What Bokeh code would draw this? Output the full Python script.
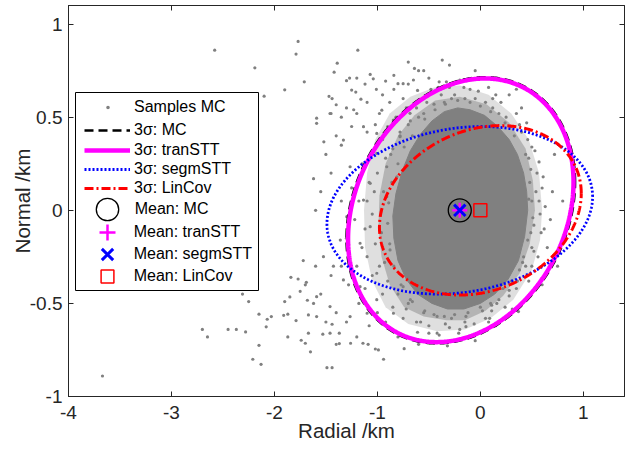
import numpy as np
from bokeh.plotting import figure
from bokeh.models import Legend, LegendItem, BoxAnnotation, FixedTicker, LinearAxis, Range1d
from bokeh.embed import file_html
from bokeh.resources import INLINE

# ---------------- data ----------------
# Monte-Carlo samples (outliers and the speckled halo)
samples_x = [
    -3.67, -2.58, -2.19, -1.77, -1.79, -1.71, -1.90, -2.10, -1.19, -1.39, -1.42, -0.70, -0.64, -0.60, -0.37,
    -1.47, -1.44, -1.30, -1.27, -1.20, -1.40, -1.45, -1.59, -1.25, -1.21, -1.16, -1.04, -1.07, -1.12, -1.01,
    -0.92, -0.84, -0.84, -0.75, -0.70, -0.61, -0.50, -0.48, -0.41, -0.33,
    -2.70, -2.65, -2.45, -2.37, -2.28, -2.31, -2.25, -2.15, -2.07, -2.03, -2.08, -2.15, -2.21, -2.13,
    -1.87, -1.91, -1.87, -1.79, -1.74, -1.70, -1.90, -1.85, -1.75, -1.68, -1.72, -1.69, -1.67, -1.84, -1.77,
    -1.49, -1.44, -1.65, -0.94, -0.99, -1.02, -0.74, -0.32, -1.37, -1.26, -1.14, -1.09, -1.67, -1.53, -1.46,
    -1.37, -1.44, -0.61, -0.50, -0.42, -0.21, -0.14, 0.00, 0.11, 0.11, 0.31, 0.37, 0.09,
    0.50, 0.52, 0.48, 0.55, 0.50, 0.47, 0.58, 0.53, 0.44, 0.60, 0.49, 0.56, 0.62, 0.46, 0.40,
    0.30, 0.25, 0.12, 0.05, 0.20, 0.35, 0.15, -0.05, 0.28, 0.40, 0.08, 0.45,
    -0.15, -0.25, -0.35, -0.45, -0.55, -0.30, -0.10, -0.48, -0.62, -0.20, -0.40,
    -0.68, -0.78, -0.85, -0.92, -0.72, -0.82, -0.95, -1.00, -1.05, -0.90, -1.10, -0.98, -1.15, -0.75, -0.88, -1.02,
    -1.03, -1.05, -1.08, -1.12, -1.02, -1.18, -1.22, -1.15, -1.25, -1.30, -1.10, -1.35,
    -0.98, -0.90, -0.80, -0.70, -1.05, -0.95, -0.85, -1.12, -1.20, -1.00, -0.75, -1.18, -1.28, -0.92, -1.08, -1.35,
    -0.55, -0.45, -0.35, -0.25, -0.12, 0.00, 0.10, -0.50, -0.30, -0.15, 0.05, -0.62, -0.40, 0.18,
    0.22, 0.30, 0.38, 0.42, 0.28, 0.35, 0.45, 0.50,
    -1.30, -1.20, -1.10, -0.95, -0.80, -0.65, -0.55, -1.25, -1.40, -1.50, -1.35, -1.45, -1.55, -1.60,
    -1.45, -1.55, -1.40, -1.60, -1.50, -1.30, -1.20, -1.62, -1.70, -1.40,
    0.70, 0.65, 0.72, 0.68, 0.80, 0.62, 0.75, 0.60,
    0.20, -0.05, 0.35, -0.30, 0.15, 0.30, -0.05, -0.60, -0.80,
    -1.59, -1.46, -1.35, -1.23, -1.135, -1.33, -1.52, -1.62, -1.265, -1.006, -0.909, -1.07, -0.81, -1.135,
    -0.909, -1.07, -1.168, -1.524, -1.427, -1.33, -1.10, -1.006, -1.168, -1.006, -1.46, -1.59, -1.265, -0.844,
    -0.68, -0.75, -0.877, -0.957, -0.845, -0.683, -0.78, -0.617, -1.006, -0.585, -0.683, -0.553, -1.297, -1.36,
    -1.59, -1.10, -0.909,
    0.47, 0.51, 0.54, 0.49, 0.57, 0.46, 0.52, 0.59, 0.44, 0.50, 0.57, 0.41, 0.47, 0.63, 0.61,
    0.33, 0.24, 0.10, 0.00, -0.10, -0.22, -0.34, -0.44, -0.54, 0.18, -0.02, -0.16, -0.28, -0.38, -0.52, -0.60,
    0.38, 0.12,
    -0.66, -0.74, -0.80, -0.86, -0.89, -0.90, -0.88, -0.84, -0.77, -0.94, -0.96, -0.93, -0.70, -0.78, -0.87,
    -0.66, -0.54, -0.42, -0.28, -0.14, 0.02, 0.16, 0.28, -0.72, -0.58, -0.34, -0.20, -0.06, 0.08, 0.24, 0.36,
]
samples_y = [
    -0.89, 0.86, 0.765, 0.907, 0.839, 0.69, 0.647, 0.613, 0.86, 0.79, 0.742, 0.796, 0.762, 0.75, 0.807,
    0.612, 0.60, 0.696, 0.71, 0.71, 0.567, 0.52, 0.495, 0.646, 0.635, 0.597, 0.706, 0.73, 0.678, 0.65,
    0.694, 0.725, 0.65, 0.68, 0.678, 0.644, 0.71, 0.65, 0.66, 0.69,
    -0.64, -0.68, -0.64, -0.64, -0.653, -0.45, -0.49, -0.558, -0.585, -0.571, -0.626, -0.725, -0.80, -0.827,
    -0.68, -0.564, -0.558, -0.592, -0.698, -0.714, -0.49, -0.465, -0.435, -0.483, -0.27, -0.387, -0.562, -0.36, -0.369,
    -0.845, -0.845, -0.76, -0.80, -0.75, -0.745, -0.743, -0.728, -0.716, -0.714, -0.714, -0.72, -0.66, -0.665, -0.66,
    -0.66, -0.612, -0.655, -0.66, -0.66, -0.66, -0.625, -0.65, -0.51, -0.54, -0.53, -0.544, -0.58,
    0.05, -0.08, 0.15, 0.20, -0.20, 0.28, -0.02, 0.32, -0.30, 0.12, -0.12, -0.25, -0.10, 0.38, 0.42,
    0.45, 0.50, 0.55, 0.58, 0.58, 0.52, 0.62, 0.60, 0.62, 0.55, 0.66, 0.47,
    0.60, 0.62, 0.58, 0.57, 0.52, 0.66, 0.65, 0.63, 0.55, 0.70, 0.69,
    0.48, 0.42, 0.33, 0.28, 0.55, 0.50, 0.38, 0.20, 0.30, 0.45, 0.42, 0.52, 0.25, 0.60, 0.58, 0.46,
    0.10, -0.02, 0.15, -0.10, -0.18, 0.05, -0.05, -0.20, 0.12, -0.15, 0.05, 0.05,
    -0.30, -0.38, -0.45, -0.50, -0.35, -0.45, -0.52, -0.42, -0.30, -0.55, -0.58, -0.50, -0.40, -0.60, -0.62, -0.30,
    -0.55, -0.56, -0.57, -0.56, -0.55, -0.52, -0.50, -0.62, -0.63, -0.60, -0.58, -0.60, -0.67, -0.48,
    -0.42, -0.38, -0.32, -0.25, -0.46, -0.42, -0.35, -0.30,
    0.55, 0.52, 0.58, 0.62, 0.68, 0.70, 0.75, 0.45, 0.40, 0.30, 0.35, 0.20, 0.10, 0.00,
    -0.35, -0.45, -0.55, -0.30, -0.60, -0.60, -0.68, -0.50, -0.40, -0.72,
    0.10, -0.20, 0.30, -0.05, 0.05, 0.40, -0.30, -0.40,
    0.70, 0.75, 0.65, 0.78, -0.62, -0.55, -0.70, -0.72, -0.68,
    0.467, 0.52, 0.50, 0.54, 0.449, 0.377, 0.368, 0.17, 0.234, 0.306, 0.234, 0.145, 0.18, 0.055,
    0.073, -0.088, -0.177, -0.249, -0.30, -0.374, -0.249, -0.338, -0.41, -0.48, -0.517, -0.571, -0.571, -0.553,
    -0.48, -0.41, -0.213, 0.538, 0.485, 0.521, 0.395, 0.36, 0.413, 0.234, 0.145, 0.055, -0.034, -0.16,
    -0.464, -0.553, -0.625,
    0.06, -0.04, 0.10, 0.22, 0.05, -0.16, -0.22, -0.12, 0.30, 0.34, 0.26, -0.28, -0.38, 0.02, 0.18,
    0.40, 0.47, 0.53, 0.56, 0.58, 0.59, 0.57, 0.54, 0.49, 0.52, 0.64, 0.66, 0.60, 0.62, 0.58, 0.50,
    0.46, 0.60,
    0.40, 0.34, 0.25, 0.15, 0.04, -0.07, -0.18, -0.30, -0.40, 0.10, -0.12, -0.28, 0.46, 0.40, 0.30,
    -0.49, -0.54, -0.57, -0.58, -0.57, -0.54, -0.50, -0.43, -0.53, -0.60, -0.61, -0.64, -0.61, -0.60, -0.52, -0.38,
]
# outlines of the saturated sample core, of its dense ring and of its sparse rim
core_x = [0.46, 0.45, 0.42, 0.36, 0.28, 0.17, 0.04, -0.10, -0.22, -0.35, -0.47, -0.58, -0.68, -0.76,
          -0.82, -0.85, -0.84, -0.80, -0.72, -0.61, -0.47, -0.32, -0.16, 0.00, 0.14, 0.27, 0.37, 0.43]
core_y = [0.00, 0.10, 0.20, 0.30, 0.38, 0.45, 0.51, 0.54, 0.55, 0.53, 0.48, 0.41, 0.32, 0.21,
          0.09, -0.03, -0.15, -0.27, -0.37, -0.45, -0.50, -0.53, -0.53, -0.50, -0.45, -0.37, -0.27, -0.14]
mid_x = [0.53, 0.51, 0.44, 0.28, 0.06, -0.20, -0.44, -0.64, -0.80, -0.92, -0.98, -0.99, -0.96,
         -0.88, -0.74, -0.55, -0.33, -0.15, 0.05, 0.22, 0.38, 0.48]
mid_y = [0.00, 0.16, 0.33, 0.47, 0.57, 0.61, 0.59, 0.51, 0.40, 0.25, 0.08, -0.09, -0.25,
         -0.40, -0.52, -0.57, -0.59, -0.59, -0.54, -0.46, -0.34, -0.18]
rim_x = [0.60, 0.57, 0.47, 0.30, 0.08, -0.20, -0.45, -0.68, -0.88, -1.02, -1.10, -1.13, -1.12, -1.05,
         -0.92, -0.70, -0.42, -0.15, 0.10, 0.32, 0.50, 0.58]
rim_y = [0.00, 0.20, 0.38, 0.52, 0.62, 0.67, 0.66, 0.61, 0.52, 0.38, 0.20, 0.00, -0.20, -0.38,
         -0.52, -0.61, -0.65, -0.64, -0.58, -0.48, -0.32, -0.16]

# 3-sigma covariance ellipses (km^2)
ell_names = ["MC", "tranSTT", "segmSTT", "LinCov"]
ell_cx = [-0.19, -0.19, -0.20, 0.0]
ell_cy = [0.0, 0.0, 0.0, 0.0]
ell_pxx = [0.1369, 0.1332, 0.1849, 0.1067]
ell_pxy = [0.0187, 0.0185, 0.0105, 0.0099]
ell_pyy = [0.0568, 0.0557, 0.0225, 0.0230]

# means
mean_names = ["MC", "tranSTT", "segmSTT", "LinCov"]
mean_x = [-0.20, -0.20, -0.20, 0.0]
mean_y = [0.0, 0.0, 0.0, 0.0]

x_ticks = [-4, -3, -2, -1, 0, 1]
x_tick_labels = ["-4", "-3", "-2", "-1", "0", "1"]
y_ticks = [-1, -0.5, 0, 0.5, 1]
y_tick_labels = ["-1", "-0.5", "0", "0.5", "1"]

FONT = "Liberation Sans"
TXT = "#262626"

# ---------------- figure ----------------
FL, FB = 68, 396  # page position of frame left / bottom
p = figure(frame_width=556, frame_height=391, min_border_left=68, min_border_right=4,
           min_border_top=5, min_border_bottom=53,
           x_range=Range1d(-4, 1.4), y_range=Range1d(-1, 1.1),
           output_backend="svg", toolbar_location=None, background_fill_color="white",
           border_fill_color="white")
p.xgrid.visible = False
p.ygrid.visible = False
p.outline_line_color = TXT

def style_axis(ax, ticks, labels, show_labels=True):
    ax.ticker = FixedTicker(ticks=ticks)
    ax.major_label_overrides = {t: l for t, l in zip(ticks, labels)}
    ax.axis_line_color = TXT
    ax.major_tick_line_color = TXT
    ax.major_tick_in = 5
    ax.major_tick_out = 0
    ax.minor_tick_line_color = None
    ax.major_label_text_font = FONT
    ax.major_label_text_color = TXT
    if show_labels:
        ax.major_label_text_font_size = "19px"
    else:
        ax.major_label_text_font_size = "0px"
        ax.major_label_standoff = 0

style_axis(p.xaxis[0], x_ticks, x_tick_labels)
p.xaxis.major_label_standoff = 9
p.xaxis.axis_label = "Radial /km"
p.xaxis.axis_label_standoff = -3
style_axis(p.yaxis[0], y_ticks, y_tick_labels)
p.yaxis.major_label_standoff = 6
p.yaxis.axis_label = "Normal /km"
p.yaxis.axis_label_standoff = -7
for ax in (p.xaxis[0], p.yaxis[0]):
    ax.axis_label_text_font = FONT
    ax.axis_label_text_font_size = "20.5px"
    ax.axis_label_text_font_style = "normal"
    ax.axis_label_text_color = TXT

top_ax = LinearAxis()
style_axis(top_ax, x_ticks, ["" for _ in x_ticks], show_labels=False)
p.add_layout(top_ax, "above")
right_ax = LinearAxis()
style_axis(right_ax, y_ticks, ["" for _ in y_ticks], show_labels=False)
p.add_layout(right_ax, "right")

# ---------------- glyphs ----------------
GRAY = "#808080"
p.patch(rim_x, rim_y, fill_color=GRAY, fill_alpha=0.25, line_color=None)
p.patch(mid_x, mid_y, fill_color=GRAY, fill_alpha=0.45, line_color=None)
p.patch(core_x, core_y, fill_color=GRAY, line_color=GRAY, line_width=1)
r_samples = p.scatter(samples_x, samples_y, marker="circle", size=3.2, fill_color=GRAY, line_color=None)

def ellipse_pts(cx, cy, pxx, pxy, pyy):
    P = np.array([[pxx, pxy], [pxy, pyy]])
    L = np.linalg.cholesky(P)
    t = np.linspace(0, 2 * np.pi, 721)
    pts = 3.0 * L @ np.vstack([np.cos(t), np.sin(t)])
    return cx + pts[0], cy + pts[1]

ell_style = [
    dict(line_color="black", line_width=2.5, line_dash="9 5"),
    dict(line_color="#FF00FF", line_width=4.5),
    dict(line_color="#0000FF", line_width=2.8, line_dash="2 2"),
    dict(line_color="#FF0000", line_width=3, line_dash="9 3 2 3"),
]
ell_r = []
for i in range(4):
    ex, ey = ellipse_pts(ell_cx[i], ell_cy[i], ell_pxx[i], ell_pxy[i], ell_pyy[i])
    ell_r.append(p.line(ex, ey, **ell_style[i]))

m_mc = p.scatter([mean_x[0]], [mean_y[0]], marker="circle", size=23, fill_alpha=0,
                 line_color="black", line_width=1.3)
m_tr = p.scatter([mean_x[1]], [mean_y[1]], marker="cross", size=15, line_color="#FF00FF", line_width=2.5)
m_sg = p.scatter([mean_x[2]], [mean_y[2]], marker="x", size=16, line_color="#0000FF", line_width=3)
m_lc = p.scatter([mean_x[3]], [mean_y[3]], marker="square", size=13, fill_alpha=0,
                 line_color="#FF0000", line_width=1.5)

# ---------------- legend ----------------
p.add_layout(BoxAnnotation(left=75 - FL, right=258 - FL, bottom=FB - 290, top=FB - 92,
                           left_units="screen", right_units="screen", top_units="screen",
                           bottom_units="screen", fill_color="white", fill_alpha=1,
                           line_color="black", line_width=1, line_alpha=1))

TEXT_X = 134

def add_leg(renderer, label, yc, gcx, gw, gh):
    gl = gcx - gw / 2.0
    standoff = int(round(TEXT_X - (gl + gw)))
    leg = Legend(items=[LegendItem(label=label, renderers=[renderer])],
                 location=(gl - FL, FB - (yc + gh / 2.0)),
                 padding=0, margin=0, spacing=0, glyph_width=gw, glyph_height=gh,
                 label_height=gh, label_standoff=standoff, border_line_alpha=0,
                 background_fill_alpha=0, label_text_font=FONT, label_text_font_size="16px",
                 label_text_color="black")
    p.add_layout(leg)

add_leg(r_samples, "Samples MC", 106.7, 107.5, 9, 18)
add_leg(ell_r[0], "3σ: " + ell_names[0], 130, 107, 46, 18)
add_leg(ell_r[1], "3σ: " + ell_names[1], 150, 107, 46, 18)
add_leg(ell_r[2], "3σ: " + ell_names[2], 169, 107, 46, 18)
add_leg(ell_r[3], "3σ: " + ell_names[3], 188.3, 107, 46, 18)
add_leg(m_mc, "Mean: " + mean_names[0], 209.3, 106.7, 56, 56)
add_leg(m_tr, "Mean: " + mean_names[1], 231.7, 106.7, 40, 40)
add_leg(m_sg, "Mean: " + mean_names[2], 253.5, 106.7, 40, 40)
add_leg(m_lc, "Mean: " + mean_names[3], 275.7, 106.7, 32, 32)

open("out.html", "w").write(file_html(p, INLINE))
